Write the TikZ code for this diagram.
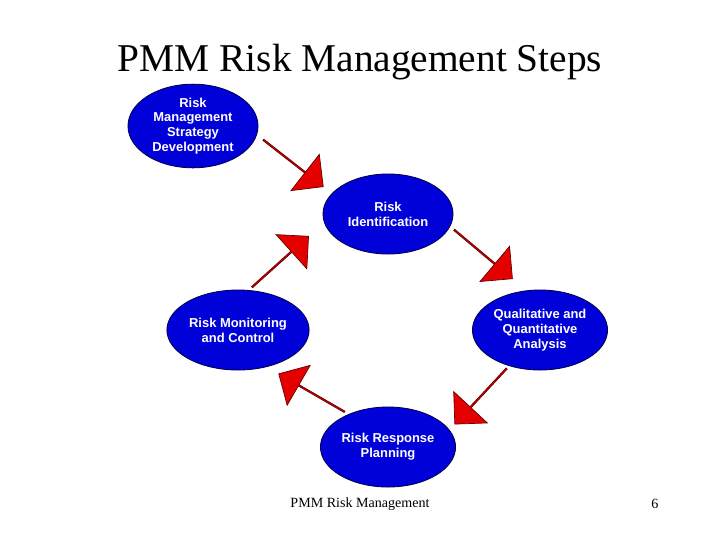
\documentclass[tikz,border=0pt]{standalone}
\usepackage{fontspec}
\setmainfont{Liberation Serif}
\setsansfont{Liberation Sans}
\usetikzlibrary{shapes.geometric, shapes.arrows}

\tikzset{
    phase/.style={ellipse, draw=blue!30!black, line width=0.6pt, fill=blue!85!black,
        text=white, font=\sffamily\bfseries\fontsize{9.2}{10.5}\selectfont,
        align=center, minimum width=3.25cm, minimum height=2cm, inner sep=1pt},
    flow/.style={single arrow, draw=red!40!black, line width=0.5pt, fill=red!90!black,
        minimum height=1.9cm, minimum width=1.15cm, single arrow head extend=0.25cm,
        inner sep=0pt}
}

\begin{document}
\begin{tikzpicture}[x=0.025cm, y=-0.025cm]
    \useasboundingbox (0, 0) rectangle (720, 540);

    \node[font=\fontsize{28}{30}\selectfont] (title) at (360, 62) {PMM Risk Management Steps};

    \node[phase] (strategy) at (193, 126) {Risk\\Management\\Strategy\\Development};
    \node[phase] (ident) at (388, 214) {Risk\\Identification};
    \node[phase] (analysis) at (540, 330) {Qualitative and\\Quantitative\\Analysis};
    \node[phase] (monitor) at (238, 330) {Risk Monitoring\\and Control};
    \node[phase] (response) at (388, 447) {Risk Response\\Planning};

    % arrows between the phases
    \node[flow, rotate=-38] (a1) at (293, 163) {};
    \node[flow, rotate=-40] (a2) at (483, 254) {};
    \node[flow, rotate=-133] (a3) at (481, 396) {};
    \node[flow, rotate=150] (a4) at (312, 393) {};
    \node[flow, rotate=42] (a5) at (280, 262) {};

    \node[font=\fontsize{10}{12}\selectfont] (foot) at (360, 504) {PMM Risk Management};
    \node[font=\fontsize{10}{12}\selectfont] (page) at (655, 504) {6};
\end{tikzpicture}
\end{document}
